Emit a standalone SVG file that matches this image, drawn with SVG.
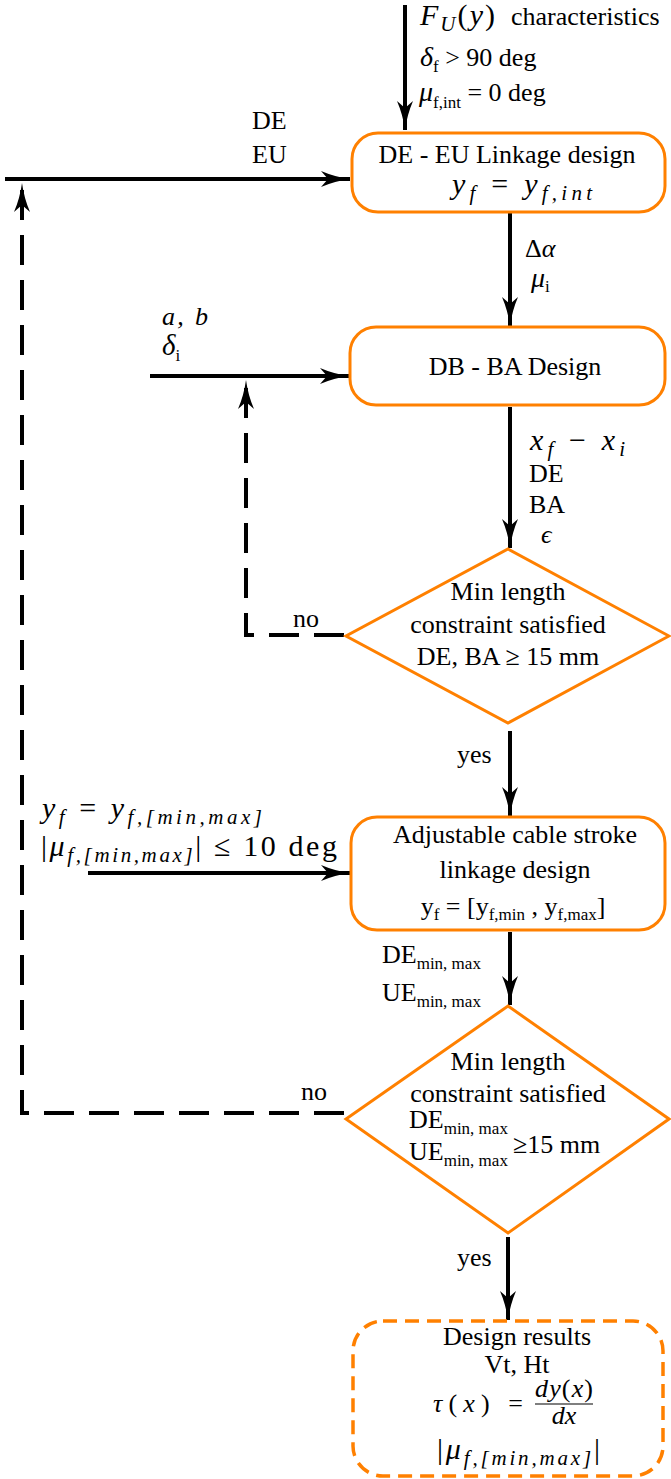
<svg xmlns="http://www.w3.org/2000/svg" width="671" height="1479" viewBox="0 0 671 1479">
<defs>
<marker id="ah" markerUnits="userSpaceOnUse" markerWidth="30" markerHeight="18" viewBox="0 0 30 18" refX="29" refY="9" orient="auto">
<path d="M0,1 Q14,7 29,9 Q14,11 0,17 L7,9 Z" fill="#000"/>
</marker>
<style>
text{font-family:'Liberation Serif','Times New Roman',serif;font-size:26px;fill:#000}
.it{font-style:italic}
.c{text-anchor:middle}
.sub{font-size:17px}
.msub{font-size:21px;font-style:italic}
.node{fill:#fff;stroke:#ff8000;stroke-width:3}
.dnode{fill:#fff;stroke:#ff8000;stroke-width:3.5;stroke-dasharray:14 8}
.conn{fill:none;stroke:#000;stroke-width:4}
.dash{stroke-dasharray:30 15}
</style>
</defs>
<rect width="671" height="1479" fill="#fff"/>

<g id="connectors">
<path class="conn" d="M405,5 V130" marker-end="url(#ah)"/>
<path class="conn" d="M5,179 H350" marker-end="url(#ah)"/>
<path class="conn" d="M510,213 V326" marker-end="url(#ah)"/>
<path class="conn" d="M150,376 H349" marker-end="url(#ah)"/>
<path class="conn" d="M510,407 V548" marker-end="url(#ah)"/>
<path class="conn" d="M510,731 V816" marker-end="url(#ah)"/>
<path class="conn" d="M88,873 H350" marker-end="url(#ah)"/>
<path class="conn" d="M510,932 V1005" marker-end="url(#ah)"/>
<path class="conn" d="M508,1237 V1320" marker-end="url(#ah)"/>
<path class="conn dash" d="M344,635 H246 V380" marker-end="url(#ah)"/>
<path class="conn dash" d="M344,1113 H22 V183" marker-end="url(#ah)"/>
<g id="connector-labels">
<text x="420" y="25" textLength="75" lengthAdjust="spacing"><tspan class="it" font-size="30">F</tspan><tspan class="msub" dy="6">U</tspan><tspan dy="-6" font-size="30">(</tspan><tspan class="it" font-size="30">y</tspan><tspan font-size="30">)</tspan></text>
<text x="511" y="25">characteristics</text>
<text x="420" y="66"><tspan class="it" font-size="28">δ</tspan><tspan class="sub" dy="6">f</tspan><tspan dy="-6"> &gt; 90 deg</tspan></text>
<text x="419" y="101"><tspan class="it" font-size="28">μ</tspan><tspan class="sub" dy="7">f,int</tspan><tspan dy="-7"> = 0 deg</tspan></text>
<text x="252" y="129">DE</text>
<text x="252" y="163">EU</text>
<text x="525" y="257" font-size="32">Δ<tspan class="it">α</tspan></text>
<text x="531" y="287"><tspan class="it" font-size="28">μ</tspan><tspan class="sub" dy="5">i</tspan></text>
<text x="162" y="325" class="it" font-size="29" textLength="46" lengthAdjust="spacing">a, b</text>
<text x="162" y="355"><tspan class="it" font-size="29">δ</tspan><tspan class="sub" dy="6">i</tspan></text>
<text x="530" y="450" textLength="95" lengthAdjust="spacing"><tspan class="it" font-size="30">x</tspan><tspan class="msub" dy="6">f</tspan><tspan dy="-6" font-size="30"> − </tspan><tspan class="it" font-size="30">x</tspan><tspan class="msub" dy="6">i</tspan></text>
<text x="529" y="482">DE</text>
<text x="529" y="513">BA</text>
<text x="541" y="543" class="it" font-size="21">ϵ</text>
<text x="293" y="627">no</text>
<text x="457" y="763">yes</text>
<text x="42" y="818" textLength="220" lengthAdjust="spacing"><tspan class="it" font-size="30">y</tspan><tspan class="msub" dy="6">f</tspan><tspan dy="-6" font-size="30"> = </tspan><tspan class="it" font-size="30">y</tspan><tspan class="msub" dy="6">f,[min,max]</tspan></text>
<text x="41" y="856" textLength="296" lengthAdjust="spacing"><tspan font-size="30">|</tspan><tspan class="it" font-size="30">μ</tspan><tspan class="msub" dy="6">f,[min,max]</tspan><tspan dy="-6" font-size="30">| ≤ 10 deg</tspan></text>
<text x="382" y="963">DE<tspan class="sub" dy="6">min, max</tspan></text>
<text x="382" y="1001">UE<tspan class="sub" dy="6">min, max</tspan></text>
<text x="301" y="1100">no</text>
<text x="457" y="1266">yes</text>
</g>
</g>

<g id="node-linkage">
<rect class="node" x="352" y="133" width="313" height="79" rx="26"/>
<text class="c" x="507" y="163">DE - EU Linkage design</text>
<text x="452" y="194" textLength="140" lengthAdjust="spacing"><tspan class="it" font-size="30">y</tspan><tspan class="msub" dy="6">f</tspan><tspan dy="-6" font-size="30"> = </tspan><tspan class="it" font-size="30">y</tspan><tspan class="msub" dy="6">f,int</tspan></text>
</g>

<g id="node-dbba">
<rect class="node" x="350" y="327" width="315" height="78" rx="26"/>
<text class="c" x="515" y="375">DB - BA Design</text>
</g>

<g id="node-check1">
<polygon class="node" points="508,549 669,636 508,723 346,636"/>
<text class="c" x="508" y="600">Min length</text>
<text class="c" x="508" y="633">constraint satisfied</text>
<text class="c" x="508" y="665">DE, BA ≥ 15 mm</text>
</g>

<g id="node-adjustable">
<rect class="node" x="351" y="817" width="314" height="113" rx="26"/>
<text class="c" x="515" y="843">Adjustable cable stroke</text>
<text class="c" x="515" y="878">linkage design</text>
<text class="c" x="513" y="915">y<tspan class="sub" dy="5">f</tspan><tspan dy="-5"> = [y</tspan><tspan class="sub" dy="5">f,min</tspan><tspan dy="-5"> , y</tspan><tspan class="sub" dy="5">f,max</tspan><tspan dy="-5">]</tspan></text>
</g>

<g id="node-check2">
<polygon class="node" points="508,1006 669,1119 508,1233 346,1119"/>
<text class="c" x="508" y="1070">Min length</text>
<text class="c" x="508" y="1102">constraint satisfied</text>
<text x="409" y="1128">DE<tspan class="sub" dy="6">min, max</tspan></text>
<text x="409" y="1160">UE<tspan class="sub" dy="6">min, max</tspan></text>
<text x="513" y="1153" font-size="28">≥<tspan font-size="26">15 mm</tspan></text>
</g>

<g id="node-results">
<rect class="dnode" x="353" y="1321" width="310" height="155" rx="30"/>
<text class="c" x="517" y="1345">Design results</text>
<text class="c" x="517" y="1373">Vt, Ht</text>
<text x="433" y="1412" font-size="30" textLength="90" lengthAdjust="spacing"><tspan class="it">τ</tspan>(<tspan class="it">x</tspan>) =</text>
<text class="it" x="535" y="1397" font-size="19" textLength="58" lengthAdjust="spacing">dy<tspan font-style="normal">(</tspan>x<tspan font-style="normal">)</tspan></text>
<line x1="535" y1="1404" x2="593" y2="1404" stroke="#000" stroke-width="1.2"/>
<text class="c it" x="564" y="1424" font-size="19">dx</text>
<text x="437" y="1459" textLength="163" lengthAdjust="spacing"><tspan font-size="30">|</tspan><tspan class="it" font-size="30">μ</tspan><tspan class="msub" dy="6">f,[min,max]</tspan><tspan dy="-6" font-size="30">|</tspan></text>
</g>
</svg>
